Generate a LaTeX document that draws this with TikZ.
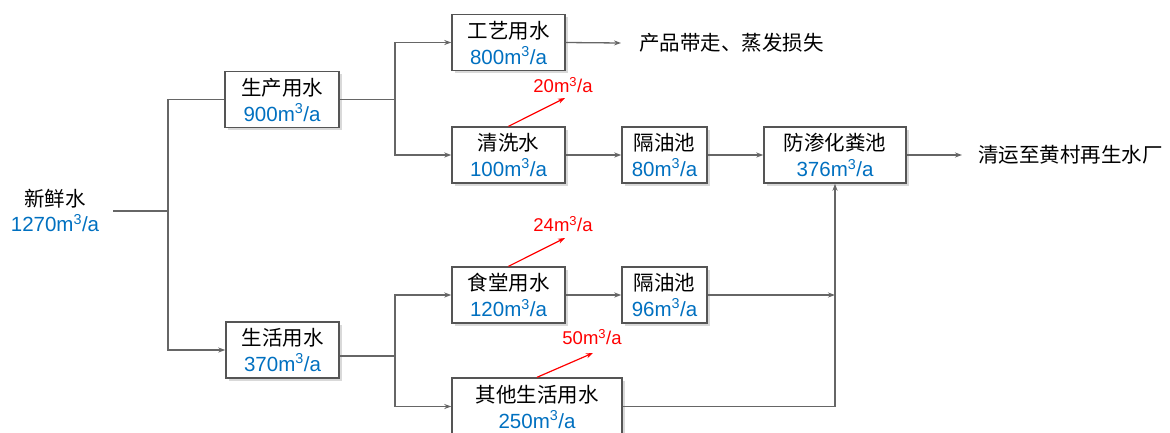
\documentclass[tikz,border=0pt]{standalone}
\usepackage{fontspec}
\setmainfont{Liberation Sans}
\newfontfamily\cjk{Noto Sans CJK SC}
\usetikzlibrary{arrows.meta,shadows}
\definecolor{lblue}{HTML}{0070C0}
\definecolor{boxgray}{HTML}{555555}
\definecolor{lngray}{HTML}{666666}
\definecolor{lred}{HTML}{FF0000}
\newcommand\flw[1]{#1m\textsuperscript{3}/a}
\begin{document}
\begin{tikzpicture}[x=1pt,y=-1pt,
  box/.style={draw=boxgray,line width=1.4pt,fill=white,inner sep=0pt,align=center,
    minimum height=56pt,font=\fontsize{20.5}{26}\selectfont,
    drop shadow={shadow xshift=2.5pt,shadow yshift=-2.5pt,fill=black!25,opacity=0.6}},
  conn/.style={draw=lngray,line width=1.3pt},
  arr/.style={conn,-{Stealth[length=7pt,width=5pt]}},
  redarr/.style={draw=lred,line width=1.2pt,-{Stealth[length=7pt,width=5pt]}},
  redlbl/.style={text=lred,inner sep=0pt,font=\fontsize{18.5}{22}\selectfont},
  plain/.style={inner sep=0pt,font=\cjk\fontsize{20.5}{26}\selectfont}]
\useasboundingbox (0,0) rectangle (1170,432);
\clip (0,0) rectangle (1170,432);
% nodes
\node[align=center,inner sep=0pt,font=\fontsize{20.5}{25}\selectfont] (fresh) at (55,210.5)
  {{\cjk 新鲜水}\\\color{lblue}\flw{1270}};
\node[box,minimum width=114pt] (prod) at (282,99.5) {{\cjk 生产用水}\\\color{lblue}\flw{900}};
\node[box,minimum width=113pt] (life) at (282.5,350) {{\cjk 生活用水}\\\color{lblue}\flw{370}};
\node[box,minimum width=113pt] (gy) at (508.5,42.5) {{\cjk 工艺用水}\\\color{lblue}\flw{800}};
\node[box,minimum width=113pt] (qx) at (508.5,155) {{\cjk 清洗水}\\\color{lblue}\flw{100}};
\node[box,minimum width=85pt] (gyc1) at (664.5,155) {{\cjk 隔油池}\\\color{lblue}\flw{80}};
\node[box,minimum width=142pt] (fs) at (835,155) {{\cjk 防渗化粪池}\\\color{lblue}\flw{376}};
\node[box,minimum width=113pt] (st) at (508.5,295) {{\cjk 食堂用水}\\\color{lblue}\flw{120}};
\node[box,minimum width=85pt] (gyc2) at (664.5,295) {{\cjk 隔油池}\\\color{lblue}\flw{96}};
\node[box,minimum width=170pt,minimum height=57pt] (qt) at (537,406.5) {{\cjk 其他生活用水}\\\color{lblue}\flw{250}};
\node[plain,anchor=west] (loss) at (639,43) {产品带走、蒸发损失};
\node[plain,anchor=west] (plant) at (978,155) {清运至黄村再生水厂};
\node[redlbl] (r1) at (563,85) {\flw{20}};
\node[redlbl] (r2) at (563,224) {\flw{24}};
\node[redlbl] (r3) at (592,337) {\flw{50}};
% junction coordinates
\coordinate (j0) at (168,211);
\coordinate (j1) at (395,99.5);
\coordinate (j2) at (395,356);
\coordinate (e1) at (621,43);
\coordinate (e2) at (962,155);
\coordinate (j3) at (835,295);
\coordinate (r1e) at (565,98);
\coordinate (r2e) at (565,238);
\coordinate (r3e) at (593,353);
% connectors
\draw[conn] (fresh.east |- j0) ++(14,0) -- (j0);
\draw[conn] (j0) |- (prod.west);
\draw[arr] (j0) |- (life.west);
\draw[conn] (prod.east) -- (j1);
\draw[arr] (j1) |- (gy.west);
\draw[arr] (j1) |- (qx.west);
\draw[conn] (life.east |- j2) -- (j2);
\draw[arr] (j2) |- (st.west);
\draw[arr] (j2) |- (qt.west);
\draw[arr] (gy.east) -- (e1);
\draw[arr] (qx.east) -- (gyc1.west);
\draw[arr] (gyc1.east) -- (fs.west);
\draw[arr] (fs.east) -- (e2);
\draw[arr] (st.east) -- (gyc2.west);
\draw[arr] (gyc2.east) -- (j3);
\draw[arr] (qt.east) -| (fs.south);
\draw[redarr] (qx.north) -- (r1e);
\draw[redarr] (st.north) -- (r2e);
\draw[redarr] (qt.north) -- (r3e);
\end{tikzpicture}
\end{document}
